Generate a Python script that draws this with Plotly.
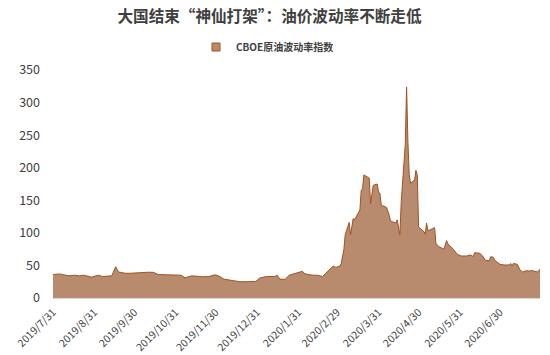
import plotly.graph_objects as go

dates = [
    "2019-07-31", "2019-08-05", "2019-08-07", "2019-08-12", "2019-08-16", "2019-08-20", "2019-08-23",
    "2019-08-29", "2019-09-03", "2019-09-06", "2019-09-13", "2019-09-16", "2019-09-18", "2019-09-23",
    "2019-09-27", "2019-10-03", "2019-10-10", "2019-10-14", "2019-10-18", "2019-10-25", "2019-10-30",
    "2019-11-04", "2019-11-07", "2019-11-12", "2019-11-18", "2019-11-20", "2019-11-25", "2019-11-29",
    "2019-12-02", "2019-12-06", "2019-12-13", "2019-12-18", "2019-12-24", "2019-12-30", "2020-01-02",
    "2020-01-07", "2020-01-13", "2020-01-15", "2020-01-17", "2020-01-21", "2020-01-24", "2020-01-28",
    "2020-02-03", "2020-02-04", "2020-02-07", "2020-02-11", "2020-02-14", "2020-02-18", "2020-02-21",
    "2020-02-25", "2020-02-26", "2020-02-28", "2020-03-02", "2020-03-03", "2020-03-05", "2020-03-06",
    "2020-03-09", "2020-03-10", "2020-03-11", "2020-03-12", "2020-03-13", "2020-03-16", "2020-03-17",
    "2020-03-18", "2020-03-19", "2020-03-20", "2020-03-23", "2020-03-24", "2020-03-25", "2020-03-26",
    "2020-03-27", "2020-03-30", "2020-03-31", "2020-04-01", "2020-04-02", "2020-04-03", "2020-04-06",
    "2020-04-08", "2020-04-09", "2020-04-13", "2020-04-14", "2020-04-16", "2020-04-17", "2020-04-20",
    "2020-04-21", "2020-04-22", "2020-04-23", "2020-04-24", "2020-04-27", "2020-04-28", "2020-04-29",
    "2020-04-30", "2020-05-01", "2020-05-04", "2020-05-05", "2020-05-06", "2020-05-07", "2020-05-11",
    "2020-05-12", "2020-05-13", "2020-05-15", "2020-05-18", "2020-05-19", "2020-05-21", "2020-05-22",
    "2020-05-26", "2020-05-29", "2020-06-01", "2020-06-05", "2020-06-08", "2020-06-10", "2020-06-11",
    "2020-06-15", "2020-06-17", "2020-06-19", "2020-06-22", "2020-06-23", "2020-06-25", "2020-06-26",
    "2020-06-30", "2020-07-03", "2020-07-07", "2020-07-08", "2020-07-09", "2020-07-10", "2020-07-13",
    "2020-07-15", "2020-07-17", "2020-07-20", "2020-07-22", "2020-07-24", "2020-07-28", "2020-07-30",
]
ovx = [
    36, 37, 36, 34, 35, 34, 35,
    32, 35, 33, 34, 48, 40, 38,
    38, 39, 39.5, 39.5, 36, 35.5, 35,
    35, 31, 34, 33, 32.5, 33, 35.6,
    34, 29, 26.6, 25, 25, 25.5, 30.7,
    33, 33, 35, 29, 28.6, 35, 37,
    41, 38, 36, 35, 35, 33, 39,
    45.5, 49, 47, 49, 53, 74, 97,
    116, 97, 109, 122, 120, 130, 135,
    165, 168, 189, 186, 184, 145, 161,
    173, 175, 162, 161, 143, 142, 139,
    127, 118, 115, 120, 97, 148, 235,
    324, 240, 189, 176, 181, 196, 189,
    109, 107, 102, 98, 115, 103, 107,
    108, 84, 79, 76, 75, 88, 83,
    75, 67, 64.5, 64.5, 66, 63.5, 69.6,
    68.6, 64.5, 58, 57, 63.5, 62.5, 58,
    51.7, 50.7, 50.7, 53, 49, 53, 51.7,
    43, 40, 42, 41.5, 42, 40, 44,
]

tick_dates = ["2019-07-31", "2019-08-31", "2019-09-30", "2019-10-31", "2019-11-30", "2019-12-31",
              "2020-01-31", "2020-02-29", "2020-03-31", "2020-04-30", "2020-05-31", "2020-06-30"]
tick_labels = ["2019/7/31", "2019/8/31", "2019/9/30", "2019/10/31", "2019/11/30", "2019/12/31",
               "2020/1/31", "2020/2/29", "2020/3/31", "2020/4/30", "2020/5/31", "2020/6/30"]

series_name = "CBOE原油波动率指数"
title_text = "大国结束“神仙打架”：油价波动率不断走低"

FONT = "Noto Sans CJK SC"
FILL = "#b98b6e"
LINE = "#a0521f"

fig = go.Figure()
fig.add_trace(go.Scatter(
    x=dates, y=ovx, name=series_name, mode="lines",
    line=dict(color=LINE, width=1),
    fill="tozeroy", fillcolor=FILL, showlegend=False,
))
# legend entry shown as a small square, like the reference
fig.add_trace(go.Scatter(
    x=[None], y=[None], name="<b>" + series_name + "</b>", mode="markers",
    marker=dict(symbol="square", size=8, color=FILL, line=dict(color=LINE, width=1)),
    showlegend=True,
))

fig.update_layout(
    width=550, height=355,
    margin=dict(l=53, r=10, t=70, b=57, autoexpand=False),
    paper_bgcolor="white", plot_bgcolor="white",
    font=dict(family=FONT, color="#404040"),
    title=dict(text="<b>" + title_text + "</b>", x=0.49, xanchor="center",
               yref="container", y=1 - 17 / 355, yanchor="middle",
               font=dict(size=15.6, color="#404040", family=FONT)),
    showlegend=True,
    legend=dict(orientation="h", x=(196 - 53) / 487, xanchor="left",
                yref="container", y=1 - 47 / 355, yanchor="middle",
                font=dict(size=10, color="#404040", family=FONT),
                itemwidth=30, tracegroupgap=0),
    xaxis=dict(type="date", range=["2019-07-31", "2020-07-30"], automargin=False,
               tickvals=tick_dates, ticktext=tick_labels, tickangle=-45,
               showgrid=False, zeroline=False, showline=True,
               linecolor="#d9d9d9", linewidth=1, ticks="", ticklabelstandoff=3,
               tickfont=dict(size=10.5, color="#404040", family=FONT)),
    yaxis=dict(range=[0, 350], dtick=50, tick0=0, showgrid=False, zeroline=False,
               automargin=False, showline=False, ticks="", ticklabelstandoff=12,
               tickfont=dict(size=12.5, color="#404040", family=FONT)),
)

fig.write_html("out.html")
